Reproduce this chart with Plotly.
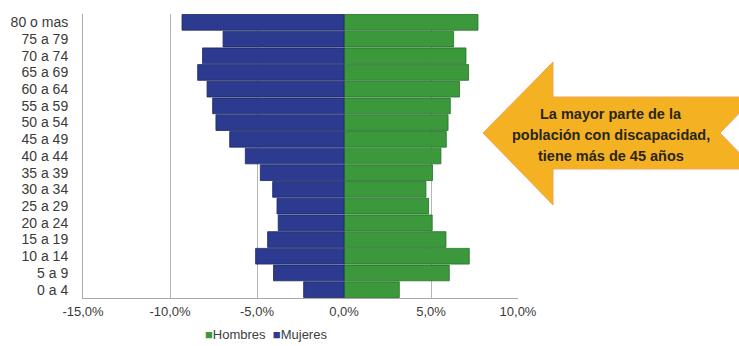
import plotly.graph_objects as go

# ---- data ----
age_groups = ["0 a 4", "5 a 9", "10 a 14", "15 a 19", "20 a 24", "25 a 29", "30 a 34",
              "35 a 39", "40 a 44", "45 a 49", "50 a 54", "55 a 59", "60 a 64",
              "65 a 69", "70 a 74", "75 a 79", "80 o mas"]
hombres = [3.18, 6.05, 7.20, 5.86, 5.07, 4.86, 4.71, 5.09, 5.57, 5.88, 5.98, 6.11, 6.64,
           7.16, 7.01, 6.30, 7.70]
mujeres = [2.32, 4.05, 5.08, 4.39, 3.78, 3.85, 4.10, 4.81, 5.67, 6.57, 7.36, 7.55, 7.87,
           8.41, 8.13, 6.95, 9.31]
x_tickvals = [-15, -10, -5, 0, 5, 10]
x_ticktext = ["-15,0%", "-10,0%", "-5,0%", "0,0%", "5,0%", "10,0%"]
arrow_lines = ["La mayor parte de la", "población con discapacidad,", "tiene más de 45 años"]
series_names = ["Hombres", "Mujeres"]
series_colors = ["#3b983b", "#2c3b90"]
series_edges = ["#25702a", "#1c2766"]

W, H = 739, 346
ML, MR, MT, MB = 83, 221, 14, 48
PW, PH = W - ML - MR, H - MT - MB
FONT = "Liberation Sans, Arial, sans-serif"


def px2paper(x, y):
    return (x - ML) / PW, (H - MB - y) / PH


fig = go.Figure()
fig.add_trace(go.Bar(
    y=age_groups, x=hombres, name=series_names[0], orientation="h",
    marker=dict(color=series_colors[0], line=dict(color=series_edges[0], width=0.8)),
))
fig.add_trace(go.Bar(
    y=age_groups, x=[-v for v in mujeres], name=series_names[1], orientation="h",
    marker=dict(color=series_colors[1], line=dict(color=series_edges[1], width=0.8)),
))

# arrow shape (decoration)
pts = [(483, 133), (553, 62), (553, 97), (755, 97), (720, 133), (755, 169), (553, 169),
       (553, 205)]
path = ""
for i, (px, py) in enumerate(pts):
    a, b = px2paper(px, py)
    path += ("M" if i == 0 else "L") + f"{a:.4f},{b:.4f} "
path += "Z"
fig.add_shape(type="path", path=path, xref="paper", yref="paper",
              fillcolor="#f4b223", line=dict(color="#f2a35a", width=1), layer="above")
for line, ypx in zip(arrow_lines, [114, 135, 156]):
    ax, ay = px2paper(611, ypx)
    fig.add_annotation(x=ax, y=ay, xref="paper", yref="paper", text=line,
                       showarrow=False, align="center", xanchor="center", yanchor="middle",
                       font=dict(family=FONT, size=14.5, color="#2a2616", weight="bold"))

# legend (drawn as text so it stays compact like the original)
legend_text = "&nbsp;&nbsp;".join(
    f"<span style='color:{c}'>■</span>{n}" for n, c in zip(series_names, series_colors))
lx, ly = px2paper(266, 334)
fig.add_annotation(x=lx, y=ly, xref="paper", yref="paper", text=legend_text,
                   showarrow=False, xanchor="center", yanchor="middle",
                   font=dict(family=FONT, size=13, color="#404040"))

fig.update_layout(
    width=W, height=H,
    margin=dict(l=ML, r=MR, t=MT, b=MB, pad=0, autoexpand=False),
    paper_bgcolor="white", plot_bgcolor="white",
    barmode="relative", bargap=0.06,
    font=dict(family=FONT, size=13, color="#3a3a3a"),
    showlegend=False,
    xaxis=dict(range=[-15, 10], tickvals=x_tickvals, ticktext=x_ticktext,
               showgrid=True, gridcolor="#b5b5b5", gridwidth=1,
               zeroline=False, showline=True, linecolor="#a8a8a8", linewidth=1,
               ticks="", ticklabelstandoff=1, tickfont=dict(size=13), fixedrange=True),
    yaxis=dict(categoryorder="array", categoryarray=age_groups,
               tickmode="array", tickvals=age_groups, ticktext=age_groups,
               showgrid=False, zeroline=False, showline=True, linecolor="#a8a8a8",
               linewidth=1, ticks="", ticklabelstandoff=11, tickfont=dict(size=14),
               fixedrange=True),
)

fig.write_html("out.html")
